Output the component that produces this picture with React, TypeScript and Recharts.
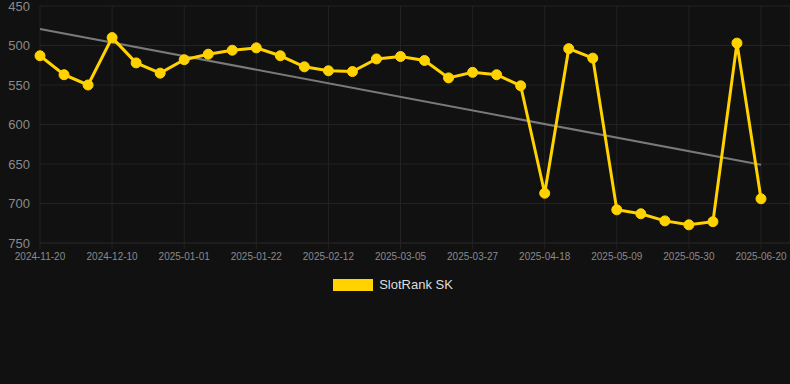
import React from 'react'
import { LineChart, Line, XAxis, YAxis, CartesianGrid, Legend, ReferenceLine } from 'recharts'

const dates = [
  '2024-11-20', '2024-11-27', '2024-12-03', '2024-12-10', '2024-12-17', '2024-12-24',
  '2025-01-01', '2025-01-08', '2025-01-15', '2025-01-22', '2025-01-29', '2025-02-05',
  '2025-02-12', '2025-02-19', '2025-02-26', '2025-03-05', '2025-03-12', '2025-03-19',
  '2025-03-27', '2025-04-03', '2025-04-10', '2025-04-18', '2025-04-25', '2025-05-02',
  '2025-05-09', '2025-05-16', '2025-05-23', '2025-05-30', '2025-06-06', '2025-06-13',
  '2025-06-20',
]

const ranks = [
  513, 537, 550, 490, 522, 535, 518, 511, 506, 503, 513, 527, 532, 533, 517, 514,
  519, 541, 534, 537, 551, 687, 504, 516, 708, 713, 722, 727, 723, 497, 694,
]

const trendEnds = [479, 651]
const yTicks = [450, 500, 550, 600, 650, 700, 750]

const data = dates.map((date, i) => ({ date, rank: ranks[i] }))

const GOLD = '#FFD200'
const GRID = '#232323'

const LegendContent = () => (
  <div style={{ display: 'flex', justifyContent: 'center', alignItems: 'center', fontFamily: 'Arial, "Liberation Sans", sans-serif' }}>
    <span style={{ display: 'inline-block', width: 40, height: 12, background: GOLD, marginRight: 6 }} />
    <span style={{ color: '#dddddd', fontSize: 13 }}>SlotRank SK</span>
  </div>
)

export default function App() {
  return (
    <div style={{ position: 'fixed', left: 0, top: 0, width: 790, height: 384, background: '#111111' }}>
      <LineChart width={790} height={384} data={data} margin={{ top: 6, right: 0, bottom: 97, left: 0 }}>
        <CartesianGrid stroke={GRID} strokeWidth={1} />
        <XAxis
          dataKey="date"
          interval={2}
          padding={{ left: 0, right: 29 }}
          axisLine={{ stroke: GRID }}
          tickLine={{ stroke: GRID }}
          tickSize={6}
          tickMargin={4}
          height={30}
          tick={{ fill: '#8a8a8a', fontSize: 10, fontFamily: 'Arial, "Liberation Sans", sans-serif' }}
        />
        <YAxis
          reversed
          domain={[450, 750]}
          ticks={yTicks}
          interval={0}
          width={40}
          axisLine={false}
          tickLine={false}
          tickSize={0}
          tickMargin={10}
          tick={{ fill: '#8a8a8a', fontSize: 13, fontFamily: 'Arial, "Liberation Sans", sans-serif' }}
        />
        <ReferenceLine
          segment={[
            { x: dates[0], y: trendEnds[0] },
            { x: dates[dates.length - 1], y: trendEnds[1] },
          ]}
          stroke="#7a7a7a"
          strokeWidth={2}
          ifOverflow="visible"
        />
        <Line
          type="linear"
          dataKey="rank"
          name="SlotRank SK"
          stroke={GOLD}
          strokeWidth={3}
          dot={{ r: 5, fill: GOLD, stroke: GOLD, strokeWidth: 1 }}
          isAnimationActive={false}
        />
        <Legend content={<LegendContent />} wrapperStyle={{ position: 'absolute', top: 277, left: 0, width: 786, height: 14 }} />
      </LineChart>
    </div>
  )
}
